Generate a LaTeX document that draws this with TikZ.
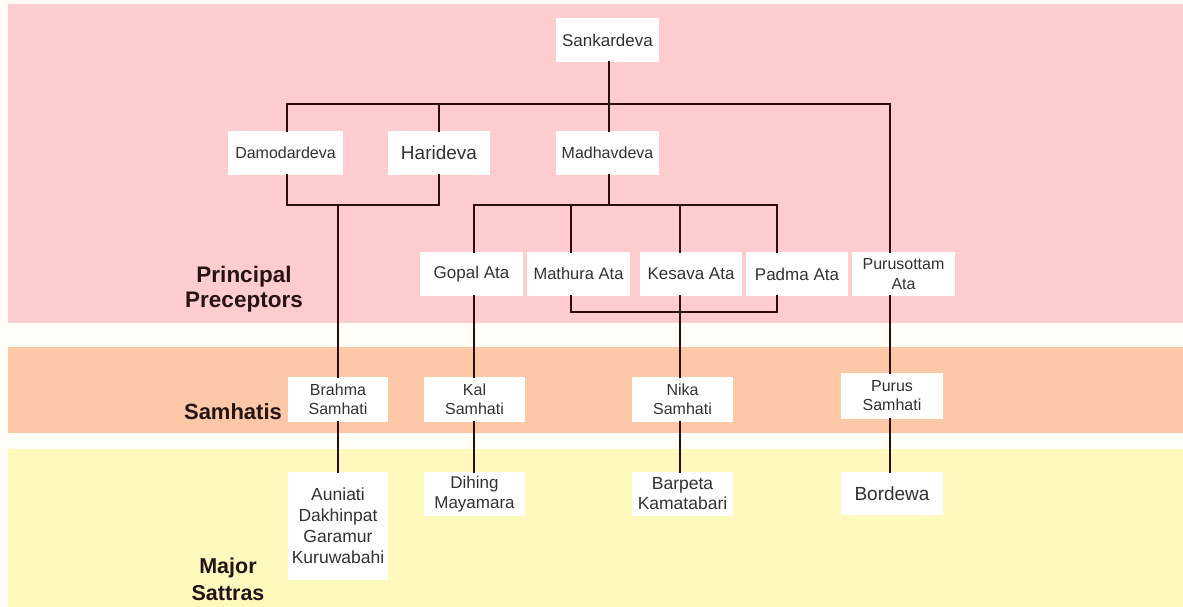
\documentclass[tikz,border=0pt]{standalone}
\usepackage{fontspec}
\setmainfont{Liberation Sans}
\definecolor{bandpink}{RGB}{255,205,208}
\definecolor{bandorange}{RGB}{252,200,168}
\definecolor{bandyellow}{RGB}{255,249,190}
\definecolor{gapwhite}{RGB}{255,253,246}
\definecolor{linkcol}{RGB}{45,12,14}
\definecolor{labelcol}{RGB}{38,20,20}
\definecolor{boxtext}{RGB}{50,50,50}
\newcommand{\fs}[2]{\fontsize{#1}{#2}\selectfont}
\tikzset{
  box/.style={fill=white, inner sep=0pt, text=boxtext, align=center,
              minimum width=102pt, minimum height=44pt},
  tier/.style={text=labelcol, align=center, inner sep=0pt},
  link/.style={draw=linkcol, line width=1.8pt, line cap=rect}
}
\begin{document}
\begin{tikzpicture}[x=1pt,y=-1pt]
\useasboundingbox (0,0) rectangle (1183,607);
% background bands
\fill[gapwhite] (0,0) rectangle (1183,607);
\fill[bandpink]   (8,4)   rectangle (1183,323);
\fill[bandorange] (8,347) rectangle (1183,433);
\fill[bandyellow] (8,449) rectangle (1183,607);

% tier labels
\node[tier, font=\fs{22.5}{25}\bfseries] (lblpp) at (244,289) {Principal\\Preceptors};
\node[tier, font=\fs{22}{26}\bfseries] (lblsm) at (233,412) {Samhatis};
\node[tier, font=\fs{21.5}{27}\bfseries] (lblms) at (228,579) {Major\\Sattras};

% preceptors
\node[box, minimum width=103pt, font=\fs{17}{20}] (sank) at (607.5,40) {Sankardeva};
\node[box, minimum width=115pt, font=\fs{16}{19}] (damo) at (285.5,153) {Damodardeva};
\node[box, font=\fs{19}{22}] (hari) at (439,153) {Harideva};
\node[box, minimum width=103pt, font=\fs{16}{19}] (madh) at (607.5,153) {Madhavdeva};
\node[box, minimum width=103pt, font=\fs{17}{20}] (gopal) at (471.5,274) {Gopal Ata};
\node[box, minimum width=103pt, font=\fs{16.5}{20}] (mathura) at (578.5,274) {Mathura Ata};
\node[box, font=\fs{17}{20}] (kesava) at (691,274) {Kesava Ata};
\node[box, font=\fs{17}{20}] (padma) at (797,274) {Padma Ata};
\node[box, minimum width=103pt, font=\fs{16}{20}] (puru) at (903.5,274) {Purusottam\\Ata};

% samhatis
\node[box, minimum width=100pt, minimum height=45pt, font=\fs{16}{19}] (brahma) at (338,399.5) {Brahma\\Samhati};
\node[box, minimum width=101pt, minimum height=45pt, font=\fs{16}{19}] (kal) at (474.5,399.5) {Kal\\Samhati};
\node[box, minimum width=101pt, minimum height=45pt, font=\fs{16}{19}] (nika) at (682.5,399.5) {Nika\\Samhati};
\node[box, minimum width=102pt, minimum height=46pt, font=\fs{16}{19}] (purus) at (892,396) {Purus\\Samhati};

% major sattras
\node[box, minimum width=100pt, minimum height=108pt, font=\fs{17.5}{21}] (auni) at (338,526) {Auniati\\Dakhinpat\\Garamur\\Kuruwabahi};
\node[box, minimum width=101pt, font=\fs{17}{20}] (dihing) at (474.5,494) {Dihing\\Mayamara};
\node[box, minimum width=101pt, font=\fs{17.5}{20}] (barpeta) at (682.5,494) {Barpeta\\Kamatabari};
\node[box, minimum width=102pt, minimum height=43pt, font=\fs{19}{22}] (bordewa) at (892,493.5) {Bordewa};

% where each vertical line meets its boxes
\coordinate (xsank) at ([xshift=1.5pt]sank.south);
\coordinate (xdamo) at ([xshift=1.5pt]damo.north);
\coordinate (xmadh) at ([xshift=1.5pt]madh.north);
\coordinate (xgopal) at ([xshift=2.5pt]gopal.north);
\coordinate (xmath) at ([xshift=-7.5pt]mathura.north);
\coordinate (xkes) at ([xshift=-11pt]kesava.north);
\coordinate (xpad) at ([xshift=-20pt]padma.north);
\coordinate (xpuru) at ([xshift=-13.5pt]puru.north);
\coordinate (xbrahma) at (brahma.north);

% bus levels
\coordinate (topbus) at (0,104);
\coordinate (lbus) at (0,205);
\coordinate (mbus) at (0,205);
\coordinate (lowbus) at (0,312);

% Sankardeva to his disciples
\draw[link] (xsank) -- (xsank |- topbus);
\draw[link] (xdamo) |- (xpuru |- topbus) -- (xpuru);
\draw[link] (hari.north) -- (hari.north |- topbus);
\draw[link] (xmadh |- topbus) -- (xmadh);

% Damodardeva and Harideva to Brahma Samhati
\draw[link] (xdamo |- damo.south) |- (hari.south |- lbus) -- (hari.south);
\draw[link] (xbrahma |- lbus) -- (brahma.north);
\draw[link] (brahma.south) -- (auni.north);

% Madhavdeva to the four Atas
\draw[link] (xmadh |- madh.south) -- (xmadh |- mbus);
\draw[link] (xgopal) |- (xpad |- mbus) -- (xpad);
\draw[link] (xmath) -- (xmath |- mbus);
\draw[link] (xkes) -- (xkes |- mbus);

% Mathura, Kesava and Padma to Nika Samhati
\draw[link] (xmath |- mathura.south) |- (xpad |- lowbus) -- (xpad |- padma.south);
\draw[link] (xkes |- kesava.south) -- (xkes |- nika.north);
\draw[link] (xkes |- nika.south) -- (xkes |- barpeta.north);

% Gopal Ata line
\draw[link] (xgopal |- gopal.south) -- (xgopal |- kal.north);
\draw[link] (xgopal |- kal.south) -- (xgopal |- dihing.north);

% Purusottam Ata line
\draw[link] (xpuru |- puru.south) -- (xpuru |- purus.north);
\draw[link] (xpuru |- purus.south) -- (xpuru |- bordewa.north);
\end{tikzpicture}
\end{document}
